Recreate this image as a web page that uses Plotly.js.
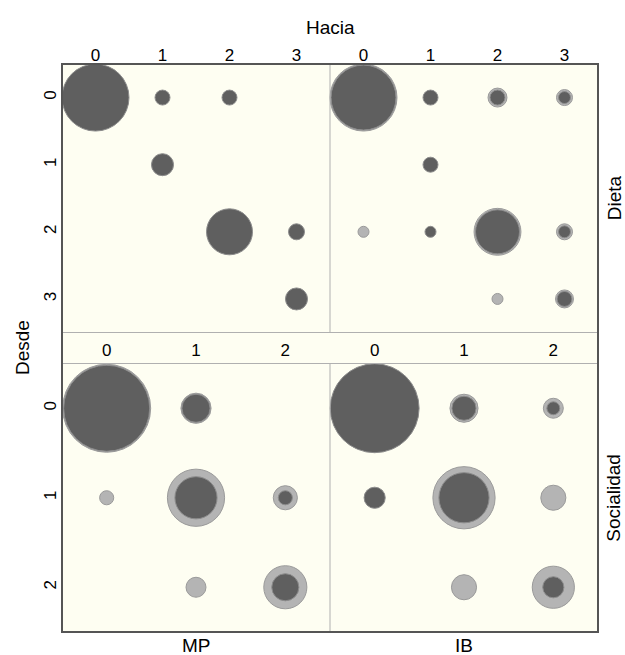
<!DOCTYPE html>
<html>
<head>
<meta charset="utf-8">
<script src="https://cdn.plot.ly/plotly-3.0.1.min.js"></script>
<style>html,body{margin:0;padding:0;background:#fff;}#chart{width:625px;height:655px;}</style>
</head>
<body>
<div id="chart"></div>
<script>
// States (tick labels)
const dietaStates = ['0', '1', '2', '3'];
const socialStates = ['0', '1', '2'];
const groups = ['MP', 'IB'];
const traits = ['Dieta', 'Socialidad'];

// Relative transition frequencies (rows = Desde, cols = Hacia); area ~ value
const dietaMP_dark = [
  [1.00, 0.050, 0.050, 0],
  [0, 0.108, 0, 0],
  [0, 0, 0.471, 0.057],
  [0, 0, 0, 0.108]
];
const dietaMP_light = [
  [0, 0, 0, 0],
  [0, 0, 0, 0],
  [0, 0, 0, 0],
  [0, 0, 0, 0]
];
const dietaIB_dark = [
  [0.94, 0.050, 0.050, 0.032],
  [0, 0.050, 0, 0],
  [0, 0.027, 0.431, 0.032],
  [0, 0, 0, 0.050]
];
const dietaIB_light = [
  [1.00, 0, 0.080, 0.057],
  [0, 0, 0, 0],
  [0.027, 0, 0.490, 0.057],
  [0, 0, 0.027, 0.072]
];
const socialMP_dark = [
  [0.927, 0.099, 0],
  [0, 0.223, 0.025],
  [0, 0, 0.092]
];
const socialMP_light = [
  [0.971, 0.114, 0],
  [0.025, 0.410, 0.073],
  [0, 0.050, 0.233]
];
const socialIB_dark = [
  [0.99, 0.073, 0.021],
  [0.056, 0.316, 0],
  [0, 0, 0.056]
];
const socialIB_light = [
  [0, 0.099, 0.050],
  [0, 0.485, 0.079],
  [0, 0.079, 0.223]
];

// ---- layout geometry ----
const W = 625, H = 655;
const M = {l: 62, r: 27, t: 64, b: 23};
const plotW = W - M.l - M.r, plotH = H - M.t - M.b;
const gapPx = 31;
const panelHpx = (plotH - gapPx) / 2;
const botTop = panelHpx / plotH;
const topBot = (panelHpx + gapPx) / plotH;
const panelWpx = plotW / 2;

const IVORY = '#fefef2';
const DARK = '#5f5f5f';
const LIGHT = '#b4b4b4';

const panels = [
  {xa: 'x', ya: 'y', dark: dietaMP_dark, light: dietaMP_light, states: dietaStates},
  {xa: 'x2', ya: 'y2', dark: dietaIB_dark, light: dietaIB_light, states: dietaStates},
  {xa: 'x3', ya: 'y3', dark: socialMP_dark, light: socialMP_light, states: socialStates},
  {xa: 'x4', ya: 'y4', dark: socialIB_dark, light: socialIB_light, states: socialStates}
];

const traces = [];
panels.forEach(p => {
  const n = p.states.length;
  const cell = panelWpx / n;
  [['light', p.light, LIGHT, '#9a9a9a'], ['dark', p.dark, DARK, '#8c8c8c']].forEach(([nm, mat, col, lc]) => {
    const xs = [], ys = [], ss = [];
    mat.forEach((row, i) => row.forEach((v, j) => {
      if (v > 0) { xs.push(j); ys.push(i); ss.push(cell * Math.sqrt(v)); }
    }));
    traces.push({
      type: 'scatter', mode: 'markers', x: xs, y: ys, xaxis: p.xa, yaxis: p.ya,
      marker: {size: ss, sizemode: 'diameter', sizeref: 1, color: col, opacity: 1,
               line: {color: lc, width: 1}},
      hoverinfo: 'skip', showlegend: false, cliponaxis: false
    });
  });
});

const font = {family: 'Liberation Sans, Arial, sans-serif', size: 19, color: '#000'};
const tfont = {family: 'Liberation Sans, Arial, sans-serif', size: 17, color: '#000'};
function xax(n, dom, standoff) {
  return {domain: dom, range: [-0.5, n - 0.5], side: 'top', tickvals: [...Array(n).keys()],
          ticktext: n === 4 ? dietaStates : socialStates, showgrid: false, zeroline: false,
          showline: false, ticks: '', tickfont: tfont, fixedrange: true, ticklabelstandoff: standoff};
}
function yax(n, dom, show, anchor) {
  return {domain: dom, range: [n - 0.5, -0.5], tickvals: [...Array(n).keys()],
          ticktext: n === 4 ? dietaStates : socialStates, showgrid: false, zeroline: false,
          showline: false, ticks: '', tickfont: tfont, tickangle: -90, showticklabels: show,
          fixedrange: true, anchor: anchor, ticklabelstandoff: 2};
}

const layout = {
  width: W, height: H, margin: M, paper_bgcolor: '#fff', plot_bgcolor: IVORY,
  font: font, showlegend: false,
  xaxis: Object.assign(xax(4, [0, 0.5], -1), {anchor: 'y'}),
  yaxis: yax(4, [topBot, 1], true, 'x'),
  xaxis2: Object.assign(xax(4, [0.5, 1], -1), {anchor: 'y2'}),
  yaxis2: yax(4, [topBot, 1], false, 'x2'),
  xaxis3: Object.assign(xax(3, [0, 0.5], 3), {anchor: 'y3'}),
  yaxis3: yax(3, [0, botTop], true, 'x3'),
  xaxis4: Object.assign(xax(3, [0.5, 1], 3), {anchor: 'y4'}),
  yaxis4: yax(3, [0, botTop], false, 'x4'),
  shapes: [
    {type: 'rect', xref: 'paper', yref: 'paper', x0: 0, x1: 1, y0: botTop, y1: topBot,
     fillcolor: IVORY, line: {width: 0}, layer: 'below'},
    {type: 'line', xref: 'paper', yref: 'paper', x0: 0, x1: 1, y0: botTop, y1: botTop, line: {color: '#b0b0b0', width: 1}},
    {type: 'line', xref: 'paper', yref: 'paper', x0: 0, x1: 1, y0: topBot, y1: topBot, line: {color: '#b0b0b0', width: 1}},
    {type: 'line', xref: 'paper', yref: 'paper', x0: 0.5, x1: 0.5, y0: 0, y1: botTop, line: {color: '#b0b0b0', width: 1}},
    {type: 'line', xref: 'paper', yref: 'paper', x0: 0.5, x1: 0.5, y0: topBot, y1: 1, line: {color: '#b0b0b0', width: 1}},
    {type: 'rect', xref: 'paper', yref: 'paper', x0: 0, x1: 1, y0: 0, y1: 1, line: {color: '#555', width: 2}}
  ],
  annotations: [
    {text: 'Hacia', xref: 'paper', yref: 'paper', x: 0.5, y: 1 + 37 / plotH, xanchor: 'center', yanchor: 'middle', showarrow: false, font: font},
    {text: 'Desde', xref: 'paper', yref: 'paper', x: -40 / plotW, y: 0.5, xanchor: 'center', yanchor: 'middle', textangle: -90, showarrow: false, font: font},
    {text: traits[0], xref: 'paper', yref: 'paper', x: 1 + 16 / plotW, y: (topBot + 1) / 2, xanchor: 'center', yanchor: 'middle', textangle: -90, showarrow: false, font: font},
    {text: traits[1], xref: 'paper', yref: 'paper', x: 1 + 16 / plotW, y: botTop / 2, xanchor: 'center', yanchor: 'middle', textangle: -90, showarrow: false, font: font},
    {text: groups[0], xref: 'paper', yref: 'paper', x: 0.25, y: -13 / plotH, xanchor: 'center', yanchor: 'middle', showarrow: false, font: font},
    {text: groups[1], xref: 'paper', yref: 'paper', x: 0.75, y: -13 / plotH, xanchor: 'center', yanchor: 'middle', showarrow: false, font: font}
  ]
};

Plotly.newPlot('chart', traces, layout, {displayModeBar: false, staticPlot: true});
</script>
</body>
</html>
